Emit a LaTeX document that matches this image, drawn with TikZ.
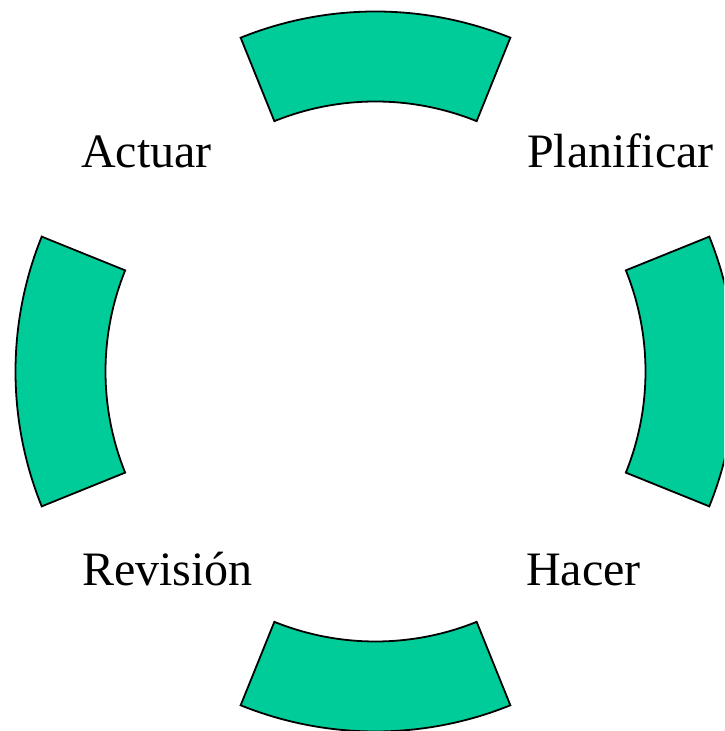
\documentclass[tikz,border=0pt]{standalone}
\usepackage{fontspec}
\setmainfont{Liberation Serif}
\usepackage{tikz}
\usetikzlibrary{positioning}
\definecolor{band}{HTML}{00CC99}
\newcommand{\Rout}{360}
\newcommand{\Rin}{270}
\newcommand{\halfspan}{22}
\tikzset{
  sector/.style={draw=black,line width=1.8pt,fill=band,line join=miter},
  stage/.style={inner sep=0pt,anchor=base west,font=\fontsize{48}{56}\selectfont},
}
\begin{document}
\begin{tikzpicture}[x=1pt,y=1pt]
  \useasboundingbox (0,0) rectangle (724,731);
  \clip (0,0) rectangle (724,731);
  % ---- the four bands of the ring ----
  \begin{scope}[shift={(375.5,359.5)}]
  \foreach \a in {90,0,-90,180}{
    \draw[sector] (\a-\halfspan:\Rout)
      arc[start angle=\a-\halfspan,end angle=\a+\halfspan,radius=\Rout]
      -- (\a+\halfspan:\Rin)
      arc[start angle=\a+\halfspan,end angle=\a-\halfspan,radius=\Rin]
      -- cycle;
  }
  \end{scope}
  % ---- stage names ----
  \node[stage] (act)  at (81,563)  {Actuar};
  \node[stage] (plan) at (527,563) {Planificar};
  \node[stage] (rev)  at (82,145)  {Revisión};
  \node[stage] (hac)  at (526,145) {Hacer};
\end{tikzpicture}
\end{document}
